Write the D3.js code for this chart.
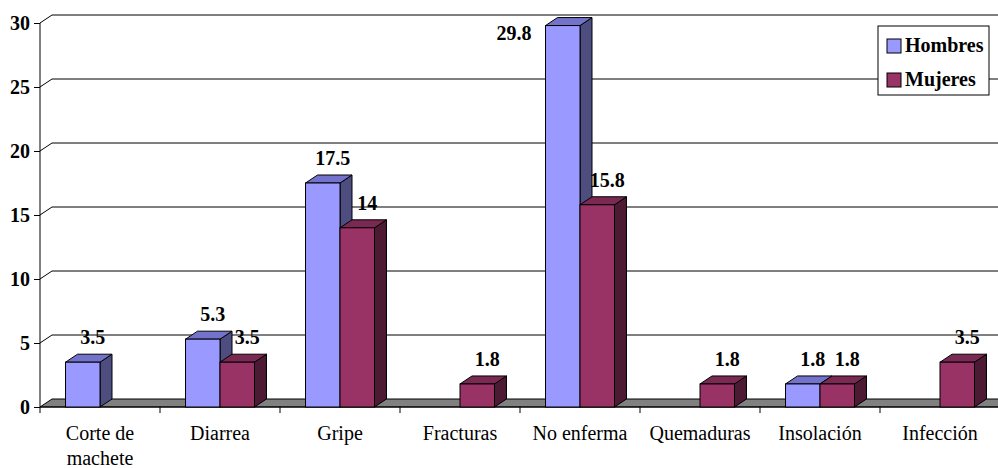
<!DOCTYPE html>
<html><head><meta charset="utf-8">
<script src="https://cdn.jsdelivr.net/npm/d3@7"></script>
<style>body{margin:0;background:#fff}svg{display:block}</style>
</head><body>
<svg id="c" width="998" height="468"></svg>
<script>
const categories = ["Corte de machete","Diarrea","Gripe","Fracturas","No enferma","Quemaduras","Insolación","Infección"];
const series = ["Hombres","Mujeres"];
const hombres = [3.5, 5.3, 17.5, null, 29.8, null, 1.8, null];
const mujeres = [null, 3.5, 14, 1.8, 15.8, 1.8, 1.8, 3.5];
const yTicks = [0,5,10,15,20,25,30];

const front = {Hombres:"#9999FF", Mujeres:"#993366"};
const topC = {Hombres:"#7373CC", Mujeres:"#7A2952"};
const sideC = {Hombres:"#4D4D80", Mujeres:"#4D1A33"};
const FONT = '"Liberation Serif"';

const svg = d3.select("#c");
const dx = 12, dy = -8;
const x0 = 40, bandW = 120;
const x = d3.scaleBand().domain(categories).range([x0, x0 + bandW*categories.length]).padding(0);
const xs = d3.scaleBand().domain(series).range([0, x.bandwidth()]).paddingInner(0).paddingOuter(0.74);
const y = d3.scaleLinear().domain([0,30]).range([407,23]);
const xEnd = x.range()[1];

// gridlines (back wall)
const g = svg.append("g");
yTicks.forEach(t => {
  if (t === 0) return;
  g.append("path")
    .attr("d", `M${x0},${y(t)} L${x0+dx},${y(t)+dy} L${xEnd+dx},${y(t)+dy}`)
    .attr("fill","none").attr("stroke","#000").attr("stroke-width",1);
});

// floor
svg.append("path")
  .attr("d", `M${x0},${y(0)} L${x0+dx},${y(0)+dy} L${xEnd+dx},${y(0)+dy} L${xEnd},${y(0)} Z`)
  .attr("fill","#808080").attr("stroke","#000").attr("stroke-width",1);

// y axis
const yAxis = d3.axisLeft(y).tickValues(yTicks).tickSize(6).tickPadding(4).tickFormat(d3.format("d"));
const ya = svg.append("g").attr("transform",`translate(${x0},0)`).call(yAxis);
ya.select(".domain").attr("d", `M0,${y(30)}V${y(0)}`).attr("stroke","#000");
ya.selectAll("text").style("font-family",FONT).style("font-size","20px").style("font-weight","bold").attr("fill","#000");

// x axis
const xAxis = d3.axisBottom(x).tickSize(0).tickFormat("");
const xa = svg.append("g").attr("transform",`translate(0,${y(0)})`).call(xAxis);
xa.select(".domain").attr("d", `M${x0},0H${xEnd}`).attr("stroke","#000");
d3.range(categories.length+1).forEach(i => {
  svg.append("line").attr("x1", x0+i*bandW).attr("x2", x0+i*bandW)
    .attr("y1", y(0)).attr("y2", y(0)+6).attr("stroke","#000");
});

// category labels with wrap
categories.forEach(c => {
  const t = svg.append("text").style("font-family",FONT).style("font-size","20px").attr("text-anchor","middle").attr("fill","#000");
  const words = c.split(" ");
  let lines = [], cur = "";
  const probe = svg.append("text").style("font-family",FONT).style("font-size","20px");
  words.forEach(w => {
    const test = cur ? cur + " " + w : w;
    probe.text(test);
    if (probe.node().getComputedTextLength() > 112 && cur) { lines.push(cur); cur = w; } else cur = test;
  });
  lines.push(cur); probe.remove();
  lines.forEach((l,i) => t.append("tspan").attr("x", x(c)+x.bandwidth()/2).attr("y", 440 + i*25).text(l));
});

// bars
const data = [];
categories.forEach((c,i) => {
  data.push({c, s:"Hombres", v:hombres[i]});
  data.push({c, s:"Mujeres", v:mujeres[i]});
});
const bars = svg.append("g");
data.filter(d => d.v != null).forEach(d => {
  const bx = x(d.c) + xs(d.s), bw = xs.bandwidth();
  const yt = y(d.v), yb = y(0);
  const gb = bars.append("g");
  gb.append("path").attr("d", `M${bx+bw},${yb} L${bx+bw+dx},${yb+dy} L${bx+bw+dx},${yt+dy} L${bx+bw},${yt} Z`)
    .attr("fill", sideC[d.s]).attr("stroke","#000").attr("stroke-width",1).attr("stroke-linejoin","round");
  gb.append("path").attr("d", `M${bx},${yt} L${bx+dx},${yt+dy} L${bx+bw+dx},${yt+dy} L${bx+bw},${yt} Z`)
    .attr("fill", topC[d.s]).attr("stroke","#000").attr("stroke-width",1).attr("stroke-linejoin","round");
  gb.append("rect").attr("x",bx).attr("y",yt).attr("width",bw).attr("height",yb-yt)
    .attr("fill", front[d.s]).attr("stroke","#000").attr("stroke-width",1);
});

// value labels
const labels = svg.append("g");
data.filter(d => d.v != null).forEach(d => {
  const bx = x(d.c) + xs(d.s), bw = xs.bandwidth();
  let lx = bx + bw/2 + 10, ly = y(d.v) + dy - 10, anchor = "middle";
  if (ly < 30) { lx = bx - 14; ly = y(d.v) + 14; anchor = "end"; }
  labels.append("text").attr("x", lx).attr("y", ly).attr("text-anchor", anchor)
    .style("font-family",FONT).style("font-size","20px").style("font-weight","bold").attr("fill","#000")
    .text(String(d.v));
});

// legend
const lg = svg.append("g");
lg.append("rect").attr("x",878).attr("y",26).attr("width",111).attr("height",69)
  .attr("fill","#fff").attr("stroke","#000").attr("stroke-width",1);
series.forEach((s,i) => {
  lg.append("rect").attr("x",887).attr("y",39+i*34).attr("width",14).attr("height",14)
    .attr("fill",front[s]).attr("stroke","#000").attr("stroke-width",1);
  lg.append("text").attr("x",905).attr("y",52+i*34).style("font-family",FONT).style("font-size","20px")
    .style("font-weight","bold").attr("fill","#000").text(s);
});
</script>
</body></html>
